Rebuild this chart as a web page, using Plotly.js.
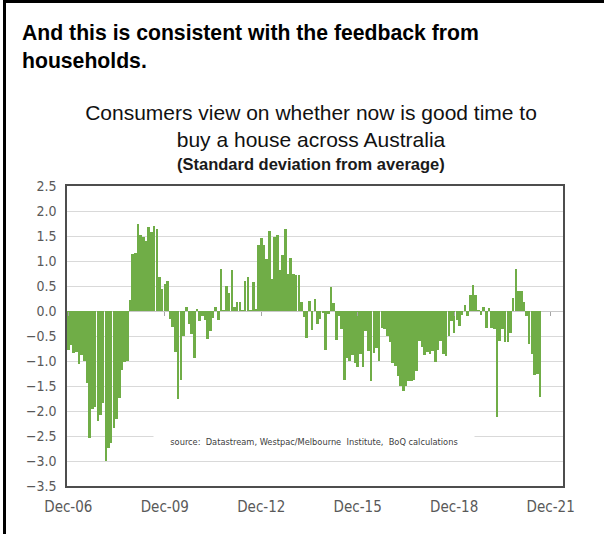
<!DOCTYPE html>
<html>
<head>
<meta charset="utf-8">
<script src="https://cdn.plot.ly/plotly-3.0.1.min.js"></script>
<style>
  html, body { margin: 0; padding: 0; background: #ffffff; }
  #chart { width: 604px; height: 534px; }
</style>
</head>
<body>
<div id="chart"></div>
<script>
// Monthly readings, standard deviations from the long-run average, starting Dec-2006
const startYear = 2006;
const startMonth = 12;
const sdFromAverage = [
  -0.78, -0.68, -0.83, -0.81, -1.05, -0.88, -1.00, -1.44, -2.54, -1.95,
  -1.91, -2.19, -2.07, -1.84, -3.00, -2.74, -2.64, -2.34, -2.15, -1.73,
  -1.17, -1.01, -1.00, 0.23, 1.14, 1.16, 1.75, 1.52, 1.49, 1.40,
  1.69, 1.59, 1.71, 1.64, 0.69, 0.45, 0.55, 0.60, -0.15, -0.32,
  -0.82, -1.75, -1.38, -0.50, 0.09, -0.26, -0.46, -0.94, 0.05, -0.19,
  -0.10, -0.17, -0.56, -0.40, -0.13, 0.08, -0.17, 0.85, 0.03, 0.50,
  0.36, 0.83, 0.08, 0.19, 0.19, 0.03, 0.61, 0.68, 0.03, 0.59,
  0.05, 1.32, 1.46, 1.32, 1.04, 1.60, 0.65, 1.48, 1.53, 0.82,
  1.12, 1.64, 0.74, 1.07, 0.74, 0.72, 0.72, 0.18, -0.12, -0.53,
  0.21, -0.38, 0.24, -0.25, -0.15, -0.04, -0.77, -0.06, 0.49, 0.17,
  -0.57, -0.10, -0.35, -1.38, -0.93, -1.00, -0.87, -1.03, -1.12, -0.85,
  -1.12, -0.40, -0.80, -1.39, -0.83, -0.73, -0.99, -0.33, -0.36, -0.50,
  -0.62, -1.03, -1.10, -1.30, -1.50, -1.60, -1.50, -1.40, -1.39, -1.37,
  -1.19, -0.59, -0.72, -0.87, -0.81, -0.85, -0.80, -1.01, -0.77, -0.59,
  -0.85, -0.90, -0.50, -0.20, -0.43, -0.17, -0.30, -0.07, 0.12, -0.10,
  0.32, 0.53, 0.32, 0.02, -0.07, 0.09, -0.33, 0.07, -0.33, -0.35,
  -2.12, -0.60, -0.35, -0.62, -0.62, -0.44, 0.26, 0.84, 0.40, 0.40,
  0.18, -0.09, -0.66, -0.86, -1.28, -1.26, -1.72
];

// Axis tick positions and their labels
const tickDates = ['2006-12-01', '2009-12-01', '2012-12-01', '2015-12-01', '2018-12-01', '2021-12-01'];
const tickLabels = ['Dec-06', 'Dec-09', 'Dec-12', 'Dec-15', 'Dec-18', 'Dec-21'];
const yTicks = [2.5, 2.0, 1.5, 1.0, 0.5, 0.0, -0.5, -1.0, -1.5, -2.0, -2.5, -3.0, -3.5];

const headingText = 'And this is consistent with the feedback from<br>households.';
const chartTitle = 'Consumers view on whether now is good time to<br>buy a house across Australia';
const subTitle = '(Standard deviation from average)';
const sourceNote = 'source:&nbsp; Datastream, Westpac/Melbourne&nbsp; Institute,&nbsp; BoQ calculations';

// One date per observation, first of each month
function monthDate(i) {
  const d = new Date(Date.UTC(startYear, startMonth - 1 + i, 1));
  const m = String(d.getUTCMonth() + 1).padStart(2, '0');
  return d.getUTCFullYear() + '-' + m + '-01';
}
const months = sdFromAverage.map((_, i) => monthDate(i));

const narrow = '"Liberation Sans Narrow", "Arial Narrow", "DejaVu Sans Condensed", sans-serif';
const sans = '"Liberation Sans", Arial, sans-serif';
const xRange = ['2006-11-16', '2022-04-20'];

// paper-coordinate helpers for the 604x534 canvas
const L = 67, R = 41, T = 186, B = 48, W = 604, H = 534;
const pw = W - L - R, ph = H - T - B;
const px = x => (x - L) / pw;
const py = y => (H - B - y) / ph;

const bars = {
  type: 'bar',
  x: months,
  y: sdFromAverage,
  marker: { color: '#70ad47', line: { width: 0 } },
  width: 2.55e9,
  hoverinfo: 'x+y'
};
const zeroTicks = {
  type: 'scatter', mode: 'markers', x: [], y: [], xaxis: 'x2', yaxis: 'y',
  hoverinfo: 'skip', showlegend: false
};

const layout = {
  width: W, height: H,
  margin: { l: L, r: R, t: T, b: B },
  paper_bgcolor: '#ffffff',
  plot_bgcolor: '#ffffff',
  showlegend: false,
  bargap: 0,
  title: {
    text: chartTitle,
    font: { family: sans, size: 21, color: '#111111' },
    xref: 'container', yref: 'container',
    x: 311 / W, xanchor: 'center',
    y: 1 - 120 / H, yanchor: 'top'
  },
  xaxis: {
    type: 'date',
    range: xRange,
    tickvals: tickDates,
    ticktext: tickLabels,
    ticks: '',
    showgrid: false,
    zeroline: false,
    showline: true, mirror: true, linecolor: '#4d4d4d', linewidth: 1.6,
    tickfont: { family: narrow, size: 15, color: '#595959' },
    ticklabelstandoff: 6
  },
  xaxis2: {
    type: 'date',
    overlaying: 'x',
    anchor: 'free',
    position: 3.5 / 6,
    range: xRange,
    tickvals: tickDates,
    ticks: 'outside', ticklen: 4, tickwidth: 1, tickcolor: '#a6a6a6',
    showticklabels: false, showgrid: false, showline: false, zeroline: false
  },
  yaxis: {
    range: [-3.5, 2.5],
    tickvals: yTicks,
    tickformat: '.1f',
    ticks: '',
    showgrid: true, gridcolor: '#d9d9d9', gridwidth: 1,
    zeroline: true, zerolinecolor: '#c8c8c8', zerolinewidth: 1,
    showline: true, mirror: true, linecolor: '#4d4d4d', linewidth: 1.6,
    tickfont: { family: narrow, size: 14, color: '#595959' },
    ticklabelstandoff: 6
  },
  annotations: [
    {
      text: '<b>' + headingText + '</b>',
      xref: 'paper', yref: 'paper',
      x: px(20), y: py(19), xanchor: 'left', yanchor: 'top', align: 'left',
      showarrow: false,
      font: { family: sans, size: 21.2, color: '#000000' }
    },
    {
      text: '<b>' + subTitle + '</b>',
      xref: 'paper', yref: 'paper',
      x: px(311), y: py(164), xanchor: 'center', yanchor: 'middle',
      showarrow: false,
      font: { family: sans, size: 16.5, color: '#1a1a1a' }
    },
    {
      text: sourceNote,
      xref: 'paper', yref: 'y',
      x: px(314), y: -2.61, xanchor: 'center', yanchor: 'middle',
      showarrow: false, bgcolor: '#ffffff', width: 318,
      font: { family: narrow, size: 9.2, color: '#404040' }
    }
  ],
  shapes: [
    { type: 'line', xref: 'paper', yref: 'paper',
      x0: px(4.5), x1: px(4.5), y0: py(534), y1: py(0),
      line: { color: '#000000', width: 3 } },
    { type: 'line', xref: 'paper', yref: 'paper',
      x0: px(3), x1: px(604), y0: py(1.5), y1: py(1.5),
      line: { color: '#000000', width: 3 } }
  ]
};

Plotly.newPlot('chart', [bars, zeroTicks], layout, { staticPlot: true, displayModeBar: false });
</script>
</body>
</html>
